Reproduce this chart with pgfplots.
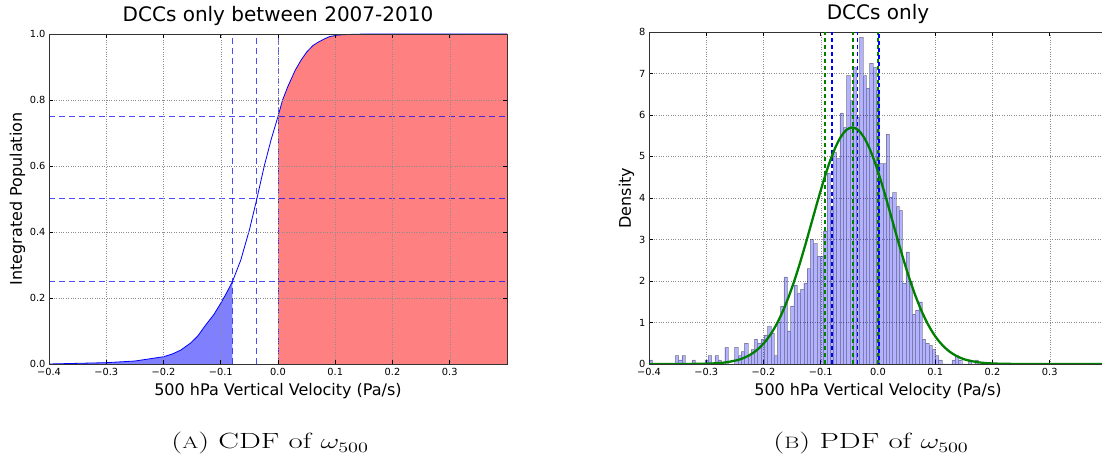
\documentclass[border=0pt]{standalone}
\usepackage{fontspec}
\usepackage{graphicx}
\usepackage{pgfplots}
\usepackage{pgfplotstable}
\pgfplotsset{compat=1.18}
\newfontfamily\dejavu{DejaVu Sans}
\definecolor{mplgreen}{RGB}{0,128,0}

\pgfplotstableread{
x y
-0.4 0.1
-0.39425 0
-0.3885 0
-0.38275 0
-0.377 0
-0.37125 0
-0.3655 0
-0.35975 0
-0.354 0.2
-0.34825 0.1
-0.3425 0.2
-0.33675 0
-0.331 0
-0.32525 0.1
-0.3195 0
-0.31375 0
-0.308 0
-0.30225 0.1
-0.2965 0.2
-0.29075 0
-0.285 0.2
-0.27925 0.1
-0.2735 0
-0.26775 0.4
-0.262 0
-0.25625 0
-0.2505 0.4
-0.24475 0.2
-0.239 0.3
-0.23325 0.5
-0.2275 0.2
-0.22175 0.35
-0.216 0.6
-0.21025 0.5
-0.2045 0.6
-0.19875 0.7
-0.193 0.9
-0.18725 0.75
-0.1815 0.2
-0.17575 1.0
-0.17 1.4
-0.16425 2.1
-0.1585 0.8
-0.15275 1.4
-0.147 1.9
-0.14125 1.7
-0.1355 1.8
-0.12975 1.95
-0.124 2.3
-0.11825 3.0
-0.1125 2.9
-0.10675 2.6
-0.101 2.6
-0.09525 3.2
-0.0895 4.6
-0.08375 3.7
-0.078 5.1
-0.07225 4.95
-0.0665 6.05
-0.06075 5.7
-0.055 6.95
-0.04925 6.35
-0.0435 7.15
-0.03775 5.95
-0.032 7.87
-0.02625 6.95
-0.0205 6.65
-0.01475 7.25
-0.009 7.15
-0.00325 6.6
0.0025 4.83
0.00825 4.83
0.014 5.54
0.01975 4.03
0.0255 4.13
0.03125 3.8
0.037 3.7
0.04275 1.95
0.0485 2.7
0.05425 2.0
0.06 1.2
0.06575 1.3
0.0715 1.5
0.07725 0.6
0.083 0.5
0.08875 0.45
0.0945 0.35
0.10025 0.2
0.106 0.1
0.11175 0
0.1175 0
0.12325 0
0.129 0.1
0.13475 0.2
0.1405 0.1
0.14625 0
0.152 0
0.15775 0.1
0.1635 0
0.16925 0.1
0.175 0
}\histdata

\pgfplotsset{mystyle/.style={
  scale only axis, width=458pt,
  xmin=-0.4, xmax=0.4,
  grid=major, grid style={dotted, black!45, line width=0.5pt},
  major tick length=4pt, tick style={black, line width=0.6pt},
  axis line style={black!80, line width=0.8pt},
  tick label style={font=\dejavu\fontsize{9.8}{10}\selectfont},
  xticklabel style={yshift=-1pt},
  label style={font=\dejavu\fontsize{16}{18}\selectfont},
  title style={font=\dejavu\fontsize{20}{22}\selectfont, at={(axis description cs:0.5,1)}, anchor=base, yshift=6pt},
  xlabel style={at={(axis description cs:0.5,0)}, anchor=base, yshift=-32pt},
  xtick={-0.4,-0.3,-0.2,-0.1,0,0.1,0.2,0.3},
  xticklabels={−0.4,−0.3,−0.2,−0.1,0.0,0.1,0.2,0.3},
  xlabel={500 hPa Vertical Velocity (Pa/s)},
},
dashb/.style={blue, draw opacity=0.7, line width=1pt, dash pattern=on 6pt off 4pt, mark=none},
gdash/.style={mplgreen, line width=1.7pt, dash pattern=on 4pt off 3pt, mark=none},
bdash/.style={blue, line width=1.7pt, dash pattern=on 4pt off 3pt, mark=none},
}

\begin{document}
\begin{tikzpicture}
\useasboundingbox (0pt,0pt) rectangle (1102pt,454pt);

% ---------------- left: CDF ----------------
\begin{axis}[mystyle, at={(49pt,90pt)}, anchor=south west, height=330pt,
  ymin=0, ymax=1, ytick={0,0.2,0.4,0.6,0.8,1},
  yticklabels={0.0,0.2,0.4,0.6,0.8,1.0},
  title={DCCs only between 2007-2010},
  ylabel={Integrated Population},
  ylabel style={at={(axis description cs:-0.0688,0.5)}, anchor=center},
  axis on top]
\addplot[draw=none, fill=blue!50, mark=none] coordinates {
(-0.4,0) (-0.35,0.002) (-0.3,0.004) (-0.25,0.009) (-0.2,0.022) (-0.185,0.03)
(-0.17,0.042) (-0.153,0.063) (-0.14,0.085) (-0.129,0.112) (-0.112,0.15)
(-0.1,0.184) (-0.09,0.215) (-0.0795,0.25)} \closedcycle;
\addplot[draw=none, fill=red!50, mark=none] coordinates {
(0,0.75) (0.008,0.8) (0.017,0.84) (0.03,0.89) (0.04,0.92) (0.05,0.945)
(0.061,0.965) (0.07,0.975) (0.081,0.985) (0.09,0.992) (0.105,0.997)
(0.13,0.999) (0.157,1.0) (0.4,1.0)} \closedcycle;
\addplot[blue, solid, line width=0.8pt, mark=none] coordinates {
(-0.4,0) (-0.35,0.002) (-0.3,0.004) (-0.25,0.009) (-0.2,0.022) (-0.185,0.03)
(-0.17,0.042) (-0.153,0.063) (-0.14,0.085) (-0.129,0.112) (-0.112,0.15)
(-0.1,0.184) (-0.09,0.215) (-0.0795,0.25) (-0.065,0.315) (-0.05,0.406)
(-0.037,0.5) (-0.024,0.6) (-0.012,0.68) (0,0.75) (0.008,0.8) (0.017,0.84)
(0.03,0.89) (0.04,0.92) (0.05,0.945) (0.061,0.965) (0.07,0.975) (0.081,0.985)
(0.09,0.992) (0.105,0.997) (0.13,0.999) (0.157,1.0) (0.4,1.0)};
\addplot[dashb] coordinates {(-0.4,0.25) (0.4,0.25)};
\addplot[dashb] coordinates {(-0.4,0.5) (0.4,0.5)};
\addplot[dashb] coordinates {(-0.4,0.75) (0.4,0.75)};
\addplot[dashb] coordinates {(-0.0795,0) (-0.0795,1)};
\addplot[dashb] coordinates {(-0.037,0) (-0.037,1)};
\addplot[dashb] coordinates {(0,0) (0,1)};
\end{axis}

% ---------------- right: PDF ----------------
\begin{axis}[mystyle, at={(649pt,90pt)}, anchor=south west, height=332pt,
  ymin=0, ymax=8, ytick={0,1,2,3,4,5,6,7,8},
  yticklabels={0,1,2,3,4,5,6,7,8},
  title={DCCs only},
  ylabel={Density},
  ylabel style={at={(axis description cs:-0.0491,0.5)}, anchor=center}]
\addplot[ybar interval, fill=blue, fill opacity=0.3, draw=black, draw opacity=0.3, line width=0.4pt, mark=none] table[x=x, y=y] {\histdata};
\addplot[gdash] coordinates {(-0.092,0) (-0.092,8)};
\addplot[gdash] coordinates {(-0.044,0) (-0.044,8)};
\addplot[gdash] coordinates {(-0.0005,0) (-0.0005,8)};
\addplot[bdash] coordinates {(-0.080,0) (-0.080,8)};
\addplot[bdash] coordinates {(-0.036,0) (-0.036,8)};
\addplot[bdash, dash phase=3.5pt] coordinates {(0.0015,0) (0.0015,8)};
\addplot[mplgreen, solid, line width=2.3pt, smooth, mark=none] coordinates {
(-0.4,0) (-0.345,0.0006) (-0.325,0.0019) (-0.305,0.0057) (-0.285,0.016)
(-0.265,0.041) (-0.245,0.096) (-0.235,0.143) (-0.225,0.209) (-0.215,0.299)
(-0.205,0.418) (-0.195,0.574) (-0.185,0.771) (-0.175,1.016) (-0.165,1.311)
(-0.155,1.658) (-0.145,2.054) (-0.135,2.494) (-0.125,2.966) (-0.115,3.457)
(-0.105,3.948) (-0.095,4.416) (-0.085,4.842) (-0.075,5.200) (-0.065,5.472)
(-0.055,5.642) (-0.045,5.7) (-0.035,5.642) (-0.025,5.472) (-0.015,5.200)
(-0.005,4.842) (0.005,4.416) (0.015,3.948) (0.025,3.457) (0.035,2.966)
(0.045,2.494) (0.055,2.054) (0.065,1.658) (0.075,1.311) (0.085,1.016)
(0.095,0.771) (0.105,0.574) (0.115,0.418) (0.125,0.299) (0.135,0.209)
(0.145,0.143) (0.155,0.096) (0.175,0.041) (0.195,0.016) (0.215,0.0057)
(0.235,0.0019) (0.255,0.0006) (0.3,0) (0.4,0)};
\end{axis}

% ---------------- captions ----------------
\node[anchor=base, inner sep=0pt, font=\fontsize{22}{24}\selectfont] at (270pt,5pt)
  {\scalebox{1.4}[1]{({\fontsize{16.5}{17}\selectfont A}) CDF of $\omega_{500}$}};
\node[anchor=base, inner sep=0pt, font=\fontsize{22}{24}\selectfont] at (871pt,5pt)
  {\scalebox{1.4}[1]{({\fontsize{16.5}{17}\selectfont B}) PDF of $\omega_{500}$}};
\end{tikzpicture}
\end{document}
